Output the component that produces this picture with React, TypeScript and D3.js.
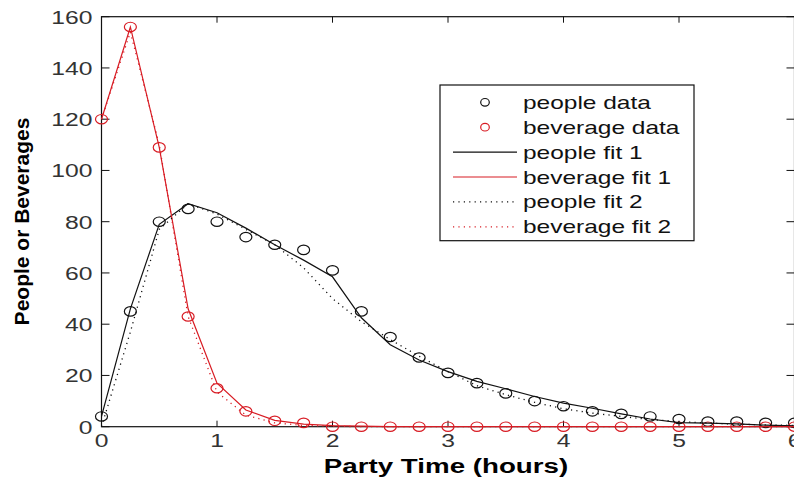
import React from "react";
import * as d3 from "d3";

const hours = [0, 0.25, 0.5, 0.75, 1, 1.25, 1.5, 1.75, 2, 2.25, 2.5, 2.75, 3, 3.25, 3.5, 3.75, 4, 4.25, 4.5, 4.75, 5, 5.25, 5.5, 5.75, 6];
const peopleData = [4, 45, 80, 85, 80, 74, 71, 69, 61, 45, 35, 27, 21, 17, 13, 10, 8, 6, 5, 4, 3, 2, 2, 1.5, 1.5];
const beverageData = [120, 156, 109, 43, 15, 6, 2.3, 1.5, 0, 0, 0, 0, 0, 0, 0, 0, 0, 0, 0, 0, 0, 0, 0, 0, 0];
const peopleFit1 = [4, 46, 79, 87, 83.5, 77.5, 71, 65, 58.5, 42.5, 32, 26, 21.5, 17.7, 14.8, 11.8, 9.2, 7.2, 5, 3, 1.6, 1.4, 1.1, 0.6, 0.3];
const beverageFit1 = [120, 156, 109, 46, 17, 6.5, 2.5, 1, 0.4, 0.2, 0, 0, 0, 0, 0, 0, 0, 0, 0, 0, 0, 0, 0, 0, 0];
const peopleFit2 = [0, 37, 77, 87, 83, 77, 71, 62, 50, 41, 34, 27.5, 21.5, 16, 12.5, 9.5, 7, 5.3, 4, 2.8, 2, 1.4, 1, 0.7, 0.5];
const beverageFit2 = [120, 154, 110, 43, 13.5, 4.5, 1.5, 0.5, 0.2, 0, 0, 0, 0, 0, 0, 0, 0, 0, 0, 0, 0, 0, 0, 0, 0];
const xTicks = [0, 1, 2, 3, 4, 5, 6];
const yTicks = [0, 20, 40, 60, 80, 100, 120, 140, 160];
const legendItems = [
  { label: "people data", kind: "marker", color: "#111" },
  { label: "beverage data", kind: "marker", color: "#d81c24" },
  { label: "people fit 1", kind: "solid", color: "#111" },
  { label: "beverage fit 1", kind: "solid", color: "#d81c24" },
  { label: "people fit 2", kind: "dotted", color: "#111" },
  { label: "beverage fit 2", kind: "dotted", color: "#d81c24" },
];

const BLACK = "#111";
const RED = "#d81c24";
const FONT = "'Liberation Sans', Arial, Helvetica, sans-serif";

export default function App() {
  const W = 794, H = 479;
  const left = 101.5, right = 794.5, top = 16.7, bottom = 426.7;
  const x = d3.scaleLinear().domain([0, 6]).range([left, right]);
  const y = d3.scaleLinear().domain([0, 160]).range([bottom, top]);
  const line = (vals: number[]) =>
    d3.line<number>().x((_, i) => x(hours[i])).y((v) => y(v))(vals) || "";

  const dotted = "1.2 4.2";
  const sx = 1.3;

  return (
    <svg width={W} height={H} style={{ position: "absolute", left: 0, top: 0, background: "#fff" }}>
      <rect x={0} y={0} width={W} height={H} fill="#fff" />
      {/* axes box */}
      <rect x={left} y={top} width={right - left} height={bottom - top} fill="#fff" stroke={BLACK} strokeWidth={1.2} />
      {/* ticks */}
      {xTicks.map((t) => (
        <g key={"xt" + t}>
          <line x1={x(t)} x2={x(t)} y1={bottom} y2={bottom - 6} stroke={BLACK} strokeWidth={1} />
          <line x1={x(t)} x2={x(t)} y1={top} y2={top + 6} stroke={BLACK} strokeWidth={1} />
          <text
            transform={`translate(${x(t)},${446.5}) scale(${sx},1)`}
            textAnchor="middle"
            fontFamily={FONT}
            fontSize={19}
            fill="#333"
          >
            {t}
          </text>
        </g>
      ))}
      {yTicks.map((t) => (
        <g key={"yt" + t}>
          <line x1={left} x2={left + 8} y1={y(t)} y2={y(t)} stroke={BLACK} strokeWidth={1} />
          <line x1={right} x2={right - 8} y1={y(t)} y2={y(t)} stroke={BLACK} strokeWidth={1} />
          <text
            transform={`translate(${92.5},${y(t) + 6.8}) scale(${sx},1)`}
            textAnchor="end"
            fontFamily={FONT}
            fontSize={19}
            fill="#333"
          >
            {t}
          </text>
        </g>
      ))}
      {/* axis labels */}
      <text
        transform={`translate(${446},${473.3}) scale(1.32,1)`}
        textAnchor="middle"
        fontFamily={FONT}
        fontWeight="bold"
        fontSize={21}
        fill="#000"
      >
        Party Time (hours)
      </text>
      <text
        transform={`translate(${28.5},${221.5}) rotate(-90)`}
        textAnchor="middle"
        fontFamily={FONT}
        fontWeight="bold"
        fontSize={21}
        fill="#000"
      >
        People or Beverages
      </text>

      {/* data markers */}
      {peopleData.map((v, i) => (
        <ellipse key={"pd" + i} cx={x(hours[i])} cy={y(v)} rx={6} ry={4.7} fill="none" stroke={BLACK} strokeWidth={1.2} />
      ))}
      {beverageData.map((v, i) => (
        <ellipse key={"bd" + i} cx={x(hours[i])} cy={y(v)} rx={6} ry={4.7} fill="none" stroke={RED} strokeWidth={1.2} />
      ))}
      {/* fits */}
      <path d={line(peopleFit1)} fill="none" stroke={BLACK} strokeWidth={1.2} />
      <path d={line(beverageFit1)} fill="none" stroke={RED} strokeWidth={1.2} />
      <path d={line(peopleFit2)} fill="none" stroke={BLACK} strokeWidth={1.3} strokeDasharray={dotted} />
      <path d={line(beverageFit2)} fill="none" stroke={RED} strokeWidth={1.3} strokeDasharray={dotted} />

      {/* legend */}
      <rect x={440} y={85} width={254} height={155.7} fill="#fff" stroke={BLACK} strokeWidth={1.2} />
      {legendItems.map((it, i) => {
        const cy = 102.3 + i * 24.9;
        return (
          <g key={"lg" + i}>
            {it.kind === "marker" && (
              <ellipse cx={485} cy={cy} rx={4.3} ry={3.8} fill="none" stroke={it.color} strokeWidth={1.2} />
            )}
            {it.kind === "solid" && (
              <line x1={453} x2={517} y1={cy} y2={cy} stroke={it.color} strokeWidth={1.2} />
            )}
            {it.kind === "dotted" && (
              <line x1={453} x2={517} y1={cy} y2={cy} stroke={it.color} strokeWidth={1.3} strokeDasharray={dotted} />
            )}
            <text
              transform={`translate(${523},${cy + 6.5}) scale(1.36,1)`}
              fontFamily={FONT}
              fontSize={18}
              fill="#111"
            >
              {it.label}
            </text>
          </g>
        );
      })}
    </svg>
  );
}
